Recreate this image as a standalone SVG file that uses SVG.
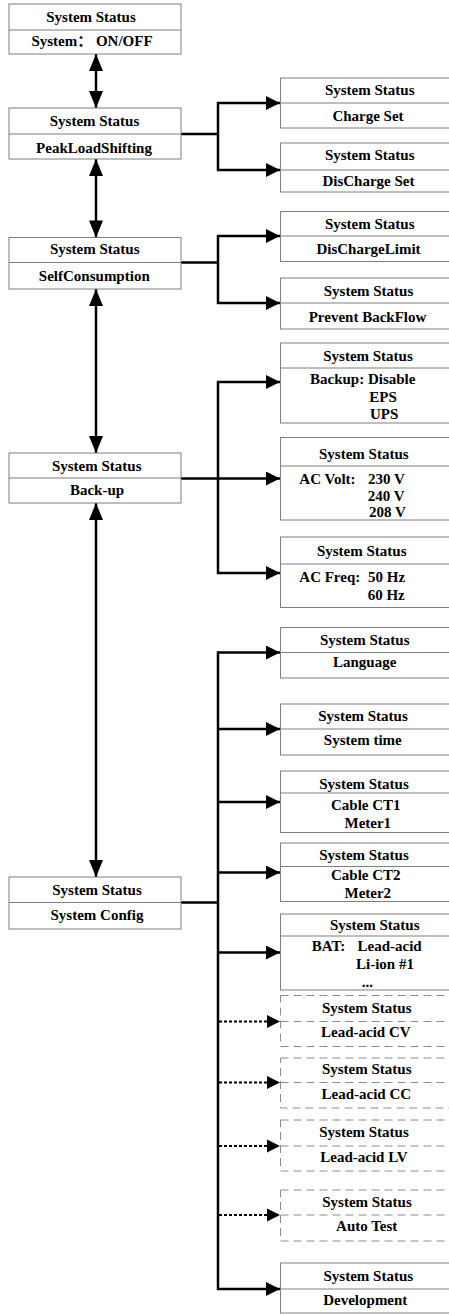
<svg xmlns="http://www.w3.org/2000/svg" width="449" height="1314" viewBox="0 0 449 1314">
<style>
.box{fill:#fff;stroke:#7f7f7f;stroke-width:1}
.dbox{fill:#fff;stroke:#8c8c8c;stroke-width:1;stroke-dasharray:8 5}
.div{stroke:#7f7f7f;stroke-width:1}
.ddiv{stroke:#8c8c8c;stroke-width:1;stroke-dasharray:8 5}
text{font-family:"Liberation Serif","Times New Roman","Noto Sans CJK SC",serif;font-weight:bold;font-size:15px;fill:#000}
.c{text-anchor:middle}
.ln{fill:none;stroke:#000;stroke-width:2.5}
.dot{fill:none;stroke:#000;stroke-width:2.2;stroke-dasharray:3 2}
</style>
<defs>
<marker id="ah" markerUnits="userSpaceOnUse" markerWidth="14" markerHeight="14" viewBox="0 0 13 13" refX="13" refY="6.5" orient="auto-start-reverse">
<path d="M0,0 L13,6.5 L0,13 Z" fill="#000"/>
</marker>
<marker id="av" markerUnits="userSpaceOnUse" markerWidth="18" markerHeight="14" viewBox="0 0 17 14" refX="17" refY="7" orient="auto-start-reverse">
<path d="M0,0 L17,7 L0,14 Z" fill="#000"/>
</marker>
</defs>

<g id="connectors">
<line class="ln" x1="96" y1="54" x2="96" y2="108" marker-start="url(#av)" marker-end="url(#av)"/>
<line class="ln" x1="96" y1="159" x2="96" y2="237.5" marker-start="url(#av)" marker-end="url(#av)"/>
<line class="ln" x1="96" y1="289" x2="96" y2="453" marker-start="url(#av)" marker-end="url(#av)"/>
<line class="ln" x1="96" y1="503" x2="96" y2="877" marker-start="url(#av)" marker-end="url(#av)"/>

<polyline class="ln" points="181,134 218,134"/>
<polyline class="ln" points="280,103 218,103 218,170 280,170" marker-start="url(#ah)" marker-end="url(#ah)"/>

<polyline class="ln" points="181,262.5 218,262.5"/>
<polyline class="ln" points="280,236 218,236 218,303 280,303" marker-start="url(#ah)" marker-end="url(#ah)"/>

<polyline class="ln" points="280,382 218,382 218,573 280,573" marker-start="url(#ah)" marker-end="url(#ah)"/>
<line class="ln" x1="181" y1="478.5" x2="280" y2="478.5" marker-end="url(#ah)"/>

<polyline class="ln" points="181,902.5 218,902.5"/>
<polyline class="ln" points="280,652.5 218,652.5 218,1289 280,1289" marker-start="url(#ah)" marker-end="url(#ah)"/>
<line class="ln" x1="218" y1="729" x2="280" y2="729" marker-end="url(#ah)"/>
<line class="ln" x1="218" y1="802" x2="280" y2="802" marker-end="url(#ah)"/>
<line class="ln" x1="218" y1="872.5" x2="280" y2="872.5" marker-end="url(#ah)"/>
<line class="ln" x1="218" y1="952.5" x2="280" y2="952.5" marker-end="url(#ah)"/>
<line class="dot" x1="219" y1="1021.5" x2="268" y2="1021.5"/>
<path d="M267,1015 L280,1021.5 L267,1028 Z" fill="#000"/>
<line class="dot" x1="219" y1="1082.5" x2="268" y2="1082.5"/>
<path d="M267,1076 L280,1082.5 L267,1089 Z" fill="#000"/>
<line class="dot" x1="219" y1="1146" x2="268" y2="1146"/>
<path d="M267,1139.5 L280,1146 L267,1152.5 Z" fill="#000"/>
<line class="dot" x1="219" y1="1215" x2="268" y2="1215"/>
<path d="M267,1208.5 L280,1215 L267,1221.5 Z" fill="#000"/>
</g>

<g id="n-onoff">
<rect class="box" x="9" y="4" width="172" height="50"/>
<line class="div" x1="9" y1="30" x2="181" y2="30"/>
<text class="c" x="91" y="21.5">System Status</text>
<text class="c" x="92" y="46">System： ON/OFF</text>
</g>
<g id="n-peak">
<rect class="box" x="9" y="108" width="172" height="51"/>
<line class="div" x1="9" y1="134" x2="181" y2="134"/>
<text class="c" x="94.5" y="125.5">System Status</text>
<text class="c" x="94" y="153">PeakLoadShifting</text>
</g>
<g id="n-self">
<rect class="box" x="9" y="237.5" width="172" height="51.5"/>
<line class="div" x1="9" y1="262.5" x2="181" y2="262.5"/>
<text class="c" x="94.7" y="254">System Status</text>
<text class="c" x="94.3" y="281">SelfConsumption</text>
</g>
<g id="n-backup">
<rect class="box" x="9" y="453" width="172" height="50"/>
<line class="div" x1="9" y1="478" x2="181" y2="478"/>
<text class="c" x="96.7" y="470.5">System Status</text>
<text class="c" x="97" y="495">Back-up</text>
</g>
<g id="n-config">
<rect class="box" x="9" y="877" width="172" height="52"/>
<line class="div" x1="9" y1="902.5" x2="181" y2="902.5"/>
<text class="c" x="97" y="894.5">System Status</text>
<text class="c" x="97" y="919.5">System Config</text>
</g>

<g id="n-charge">
<rect class="box" x="280.5" y="78" width="180" height="50"/>
<line class="div" x1="280.5" y1="103" x2="460" y2="103"/>
<text class="c" x="369.7" y="95">System Status</text>
<text class="c" x="368" y="121">Charge Set</text>
</g>
<g id="n-discharge">
<rect class="box" x="280.5" y="143" width="180" height="49"/>
<line class="div" x1="280.5" y1="170" x2="460" y2="170"/>
<text class="c" x="369.7" y="160">System Status</text>
<text class="c" x="368.5" y="186">DisCharge Set</text>
</g>
<g id="n-dislimit">
<rect class="box" x="280.5" y="211.5" width="180" height="50"/>
<line class="div" x1="280.5" y1="236" x2="460" y2="236"/>
<text class="c" x="369.7" y="229">System Status</text>
<text class="c" x="368.5" y="254">DisChargeLimit</text>
</g>
<g id="n-backflow">
<rect class="box" x="280.5" y="278" width="180" height="51"/>
<line class="div" x1="280.5" y1="303" x2="460" y2="303"/>
<text class="c" x="368.5" y="296">System Status</text>
<text class="c" x="367.5" y="322">Prevent BackFlow</text>
</g>
<g id="n-backupmode">
<rect class="box" x="280.5" y="343" width="180" height="80"/>
<line class="div" x1="280.5" y1="368" x2="460" y2="368"/>
<text class="c" x="368" y="360.5">System Status</text>
<text x="310" y="384">Backup: Disable</text>
<text x="369.3" y="401.5">EPS</text>
<text x="370" y="419">UPS</text>
</g>
<g id="n-acvolt">
<rect class="box" x="280.5" y="437.5" width="180" height="82.5"/>
<line class="div" x1="280.5" y1="466" x2="460" y2="466"/>
<text class="c" x="363.8" y="459">System Status</text>
<text x="299.3" y="483.5">AC Volt:<tspan x="368">230 V</tspan></text>
<text x="367.7" y="500.5">240 V</text>
<text x="369" y="517">208 V</text>
</g>
<g id="n-acfreq">
<rect class="box" x="280.5" y="537" width="180" height="70.5"/>
<line class="div" x1="280.5" y1="564" x2="460" y2="564"/>
<text class="c" x="361.7" y="556">System Status</text>
<text x="299.3" y="582">AC Freq:<tspan x="368">50 Hz</tspan></text>
<text x="367.7" y="600">60 Hz</text>
</g>
<g id="n-language">
<rect class="box" x="280.5" y="627.5" width="180" height="50.5"/>
<line class="div" x1="280.5" y1="652.5" x2="460" y2="652.5"/>
<text class="c" x="364.7" y="644.5">System Status</text>
<text class="c" x="364.7" y="667">Language</text>
</g>
<g id="n-time">
<rect class="box" x="280.5" y="704" width="180" height="51"/>
<line class="div" x1="280.5" y1="729" x2="460" y2="729"/>
<text class="c" x="363" y="721">System Status</text>
<text class="c" x="362.8" y="745">System time</text>
</g>
<g id="n-ct1">
<rect class="box" x="280.5" y="771" width="180" height="61.5"/>
<line class="div" x1="280.5" y1="793" x2="460" y2="793"/>
<text class="c" x="364" y="788.5">System Status</text>
<text class="c" x="365.8" y="810">Cable CT1</text>
<text class="c" x="367.8" y="828">Meter1</text>
</g>
<g id="n-ct2">
<rect class="box" x="280.5" y="843" width="180" height="58.5"/>
<line class="div" x1="280.5" y1="866.5" x2="460" y2="866.5"/>
<text class="c" x="364" y="859.5">System Status</text>
<text class="c" x="365.8" y="880">Cable CT2</text>
<text class="c" x="367.8" y="898">Meter2</text>
</g>
<g id="n-bat">
<rect class="box" x="280.5" y="914" width="180" height="76"/>
<line class="div" x1="280.5" y1="936" x2="460" y2="936"/>
<text class="c" x="374.7" y="930">System Status</text>
<text x="311.7" y="950.5">BAT:<tspan x="357.5">Lead-acid</tspan></text>
<text x="356" y="968.5">Li-ion #1</text>
<text x="361.7" y="986.5">...</text>
</g>
<g id="n-cv">
<rect class="dbox" x="280.5" y="995.5" width="180" height="51"/>
<line class="ddiv" x1="280.5" y1="1021.5" x2="460" y2="1021.5"/>
<text class="c" x="366.7" y="1013">System Status</text>
<text class="c" x="365.8" y="1037">Lead-acid CV</text>
</g>
<g id="n-cc">
<rect class="dbox" x="280.5" y="1058" width="180" height="50"/>
<line class="ddiv" x1="280.5" y1="1082.5" x2="460" y2="1082.5"/>
<text class="c" x="366.7" y="1073.5">System Status</text>
<text class="c" x="366.3" y="1098.5">Lead-acid CC</text>
</g>
<g id="n-lv">
<rect class="dbox" x="280.5" y="1120" width="180" height="51"/>
<line class="ddiv" x1="280.5" y1="1146" x2="460" y2="1146"/>
<text class="c" x="364" y="1137">System Status</text>
<text class="c" x="364" y="1162">Lead-acid LV</text>
</g>
<g id="n-autotest">
<rect class="dbox" x="280.5" y="1190" width="180" height="51"/>
<line class="ddiv" x1="280.5" y1="1215" x2="460" y2="1215"/>
<text class="c" x="367" y="1207">System Status</text>
<text class="c" x="366.7" y="1231">Auto Test</text>
</g>
<g id="n-dev">
<rect class="box" x="280.5" y="1263" width="180" height="50"/>
<line class="div" x1="280.5" y1="1289" x2="460" y2="1289"/>
<text class="c" x="368.3" y="1280.5">System Status</text>
<text class="c" x="365.3" y="1305">Development</text>
</g>
</svg>
